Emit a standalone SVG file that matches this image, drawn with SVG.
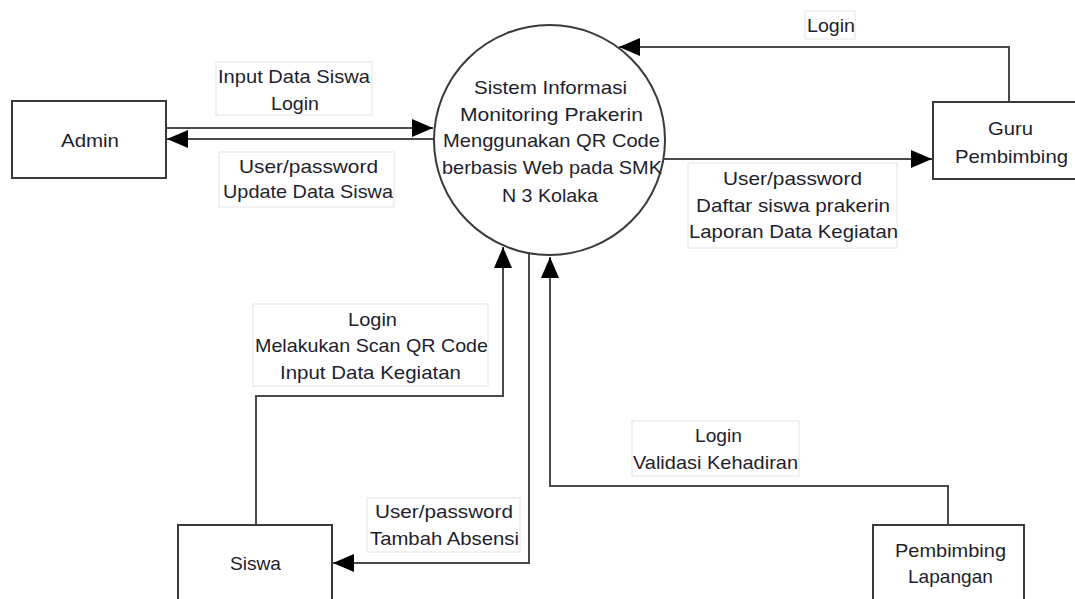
<svg xmlns="http://www.w3.org/2000/svg" width="1075" height="599" viewBox="0 0 1075 599">
  <style>
    .bg { fill: #ffffff; }
    .entity { fill: #ffffff; stroke: #3a3a3a; stroke-width: 2; }
    .process { fill: #ffffff; stroke: #3a3a3a; stroke-width: 2; }
    .flow { fill: none; stroke: #4a4a4a; stroke-width: 2; }
    .tag { fill: #ffffff; stroke: #e4e4e4; stroke-width: 1; }
    text { font-family: "Liberation Sans", Arial, sans-serif; font-size: 19px; fill: #1e1e2e; text-anchor: middle; }
  </style>
  <defs>
    <marker id="head" markerUnits="userSpaceOnUse" markerWidth="21" markerHeight="18" refX="21" refY="9" orient="auto">
      <path d="M0,0 L21,9 L0,18 z" fill="#000000"/>
    </marker>
  </defs>

  <rect class="bg" x="0" y="0" width="1075" height="599"/>

  <!-- data flows -->
  <g id="connectors">
    <path class="flow" d="M166,128 H433" marker-end="url(#head)"/>
    <path class="flow" d="M435,139 H167" marker-end="url(#head)"/>
    <path class="flow" d="M664,159 H932" marker-end="url(#head)"/>
    <path class="flow" d="M1009,102 V47 H619" marker-end="url(#head)"/>
    <path class="flow" d="M256,525 V396 H503 V247" marker-end="url(#head)"/>
    <path class="flow" d="M529,253 V563 H333" marker-end="url(#head)"/>
    <path class="flow" d="M948,525 V486 H550 V257" marker-end="url(#head)"/>
  </g>

  <!-- flow labels -->
  <g id="labels">
    <rect class="tag" x="216" y="62" width="156" height="53"/>
    <text x="294" y="83" textLength="152" lengthAdjust="spacingAndGlyphs">Input Data Siswa</text>
    <text x="295" y="110" textLength="48" lengthAdjust="spacingAndGlyphs">Login</text>

    <rect class="tag" x="219" y="152" width="175" height="55"/>
    <text x="308.5" y="173" textLength="139" lengthAdjust="spacingAndGlyphs">User/password</text>
    <text x="308" y="198" textLength="170" lengthAdjust="spacingAndGlyphs">Update Data Siswa</text>

    <rect class="tag" x="805" y="11" width="50" height="28"/>
    <text x="831" y="32" textLength="48" lengthAdjust="spacingAndGlyphs">Login</text>

    <rect class="tag" x="688" y="163" width="209" height="85"/>
    <text x="792.5" y="185" textLength="139" lengthAdjust="spacingAndGlyphs">User/password</text>
    <text x="793" y="212" textLength="194" lengthAdjust="spacingAndGlyphs">Daftar siswa prakerin</text>
    <text x="793.5" y="238" textLength="209" lengthAdjust="spacingAndGlyphs">Laporan Data Kegiatan</text>

    <rect class="tag" x="253" y="304" width="235" height="82"/>
    <text x="372.5" y="326" textLength="49" lengthAdjust="spacingAndGlyphs">Login</text>
    <text x="371.5" y="352" textLength="233" lengthAdjust="spacingAndGlyphs">Melakukan Scan QR Code</text>
    <text x="370.5" y="379" textLength="181" lengthAdjust="spacingAndGlyphs">Input Data Kegiatan</text>

    <rect class="tag" x="367" y="498" width="153" height="54"/>
    <text x="444" y="518" textLength="138" lengthAdjust="spacingAndGlyphs">User/password</text>
    <text x="444.5" y="545" textLength="149" lengthAdjust="spacingAndGlyphs">Tambah Absensi</text>

    <rect class="tag" x="632" y="421" width="167" height="55"/>
    <text x="718.5" y="442" textLength="47" lengthAdjust="spacingAndGlyphs">Login</text>
    <text x="715.5" y="469" textLength="165" lengthAdjust="spacingAndGlyphs">Validasi Kehadiran</text>
  </g>

  <!-- central process -->
  <g id="process-sistem">
    <ellipse class="process" cx="549.5" cy="140" rx="115.5" ry="115"/>
    <text x="550.5" y="94" textLength="153" lengthAdjust="spacingAndGlyphs">Sistem Informasi</text>
    <text x="551.5" y="121" textLength="183" lengthAdjust="spacingAndGlyphs">Monitoring Prakerin</text>
    <text x="551.5" y="147" textLength="217" lengthAdjust="spacingAndGlyphs">Menggunakan QR Code</text>
    <text x="552" y="174" textLength="220" lengthAdjust="spacingAndGlyphs">berbasis Web pada SMK</text>
    <text x="550" y="202" textLength="96" lengthAdjust="spacingAndGlyphs">N 3 Kolaka</text>
  </g>

  <!-- external entities -->
  <g id="entity-admin">
    <rect class="entity" x="12" y="101" width="154" height="77"/>
    <text x="90" y="147" textLength="58" lengthAdjust="spacingAndGlyphs">Admin</text>
  </g>

  <g id="entity-guru">
    <rect class="entity" x="933" y="102" width="150" height="77"/>
    <text x="1010.5" y="135" textLength="45" lengthAdjust="spacingAndGlyphs">Guru</text>
    <text x="1011.5" y="163" textLength="113" lengthAdjust="spacingAndGlyphs">Pembimbing</text>
  </g>

  <g id="entity-siswa">
    <rect class="entity" x="178" y="525" width="154" height="90"/>
    <text x="255.5" y="570" textLength="51" lengthAdjust="spacingAndGlyphs">Siswa</text>
  </g>

  <g id="entity-pembimbing-lapangan">
    <rect class="entity" x="873" y="525" width="151" height="90"/>
    <text x="950.5" y="557" textLength="111" lengthAdjust="spacingAndGlyphs">Pembimbing</text>
    <text x="950.5" y="583" textLength="85" lengthAdjust="spacingAndGlyphs">Lapangan</text>
  </g>
</svg>
